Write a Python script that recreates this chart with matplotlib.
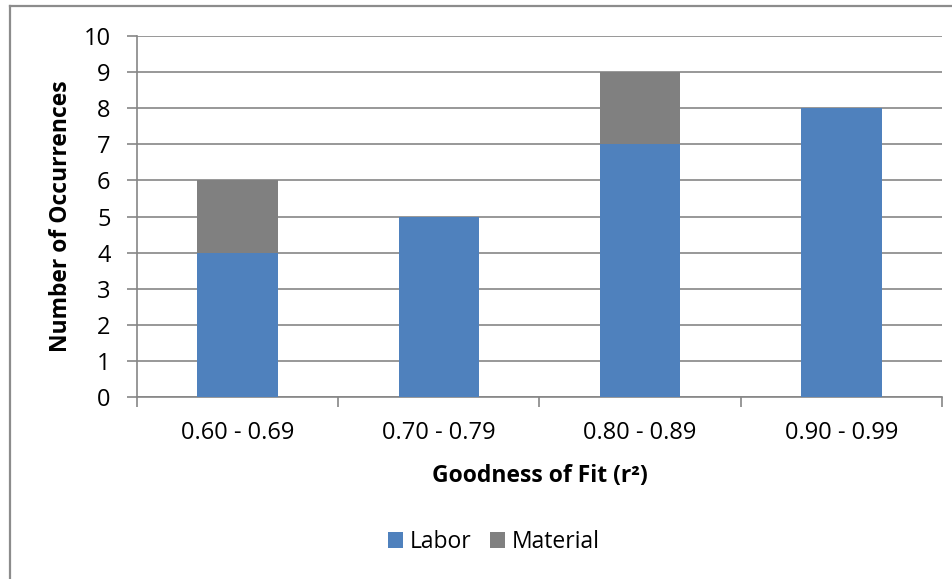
import matplotlib.pyplot as plt
from matplotlib.lines import Line2D
import numpy as np

plt.rcParams['font.family'] = ['Open Sans', 'DejaVu Sans']

# Occurrences per r^2 bin
bins = ['0.60 - 0.69', '0.70 - 0.79', '0.80 - 0.89', '0.90 - 0.99']
labor = [4, 5, 7, 8]
material = [2, 0, 2, 0]

blue = '#4F81BD'
grey = '#808080'
lineCol = '#868686'

fig = plt.figure(figsize=(9.53, 5.79), dpi=100)
ax = fig.add_axes([137 / 953, 1 - 397 / 579, 805 / 953, 361 / 579])

x = np.arange(len(bins))
ax.bar(x, labor, width=0.4, color=blue, label='Labor', zorder=3)
ax.bar(x, material, width=0.4, bottom=labor, color=grey, label='Material', zorder=3)

ax.set_xlim(-0.5, len(bins) - 0.5)
ax.set_ylim(0, 10)
ax.set_yticks(range(0, 11))
ax.yaxis.grid(True, color=lineCol, linewidth=1.2, zorder=0)

# category labels on major ticks, boundary marks on minor ticks
ax.set_xticks(x)
ax.set_xticklabels(bins)
ax.set_xticks(np.arange(-0.5, len(bins)), minor=True)
ax.tick_params(axis='x', which='major', length=0, pad=17, labelsize=17)
ax.tick_params(axis='x', which='minor', length=7, width=1.2, color=lineCol, direction='out')
ax.tick_params(axis='y', length=7, width=1.2, color=lineCol, pad=12, labelsize=17)

for side in ['top', 'right']:
    ax.spines[side].set_visible(False)
for side in ['left', 'bottom']:
    ax.spines[side].set_color(lineCol)
    ax.spines[side].set_linewidth(1.2)

ax.set_xlabel('Goodness of Fit (r²)', fontsize=16.5, fontweight='bold')
ax.xaxis.set_label_coords(0.5, -0.185)
ax.set_ylabel('Number of Occurrences', fontsize=16.5, fontweight='bold')
ax.yaxis.set_label_coords(-0.08, 0.5)

fig.legend(loc='center', bbox_to_anchor=(494 / 953, 1 - 542 / 579), ncol=2,
           frameon=False, fontsize=16.5, handlelength=0.65, handleheight=0.65,
           handletextpad=0.3, columnspacing=0.8)

# chart frame (top and left edges)
fig.add_artist(Line2D([10 / 953, 10 / 953], [0, 1 - 6 / 579], color='#8c8c8c', linewidth=1.6))
fig.add_artist(Line2D([10 / 953, 1], [1 - 6 / 579, 1 - 6 / 579], color='#8c8c8c', linewidth=1.6))

fig.savefig('out.png', dpi=100)
